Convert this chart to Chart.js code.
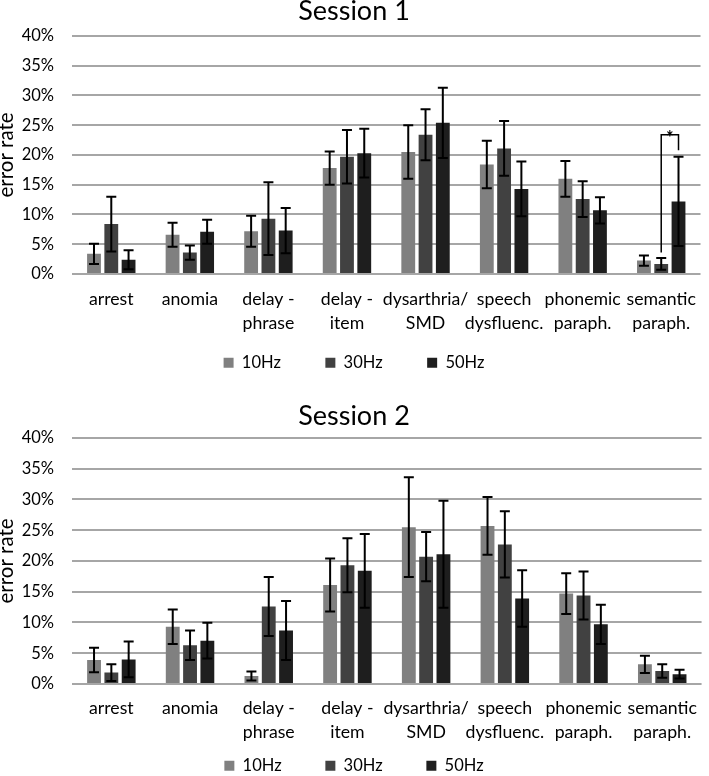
<!DOCTYPE html>
<html>
<head>
<meta charset="utf-8">
<script src="https://cdn.jsdelivr.net/npm/chart.js@4.4.1/dist/chart.umd.min.js"></script>
<style>
  html, body { margin: 0; padding: 0; background: #fff; overflow: hidden; width: 709px; height: 776px; }
  .box { position: absolute; left: 0; width: 709px; }
  #box1 { top: 0; height: 381px; }
  #box2 { top: 388px; height: 396px; }
</style>
</head>
<body>
<div class="box" id="box1"><canvas id="chart1" width="709" height="381"></canvas></div>
<div class="box" id="box2"><canvas id="chart2" width="709" height="396"></canvas></div>
<script>
// categories on the x axis
const categories = ['arrest', 'anomia', ['delay -', 'phrase'], ['delay -', 'item'], ['dysarthria/', 'SMD'],
  ['speech', 'dysfluenc.'], ['phonemic', 'paraph.'], ['semantic', 'paraph.']];
const seriesNames = ['10Hz', '30Hz', '50Hz'];
const yTicks = [0, 5, 10, 15, 20, 25, 30, 35, 40];

// Session 1 (error rate in %, with error bar half-widths)
const s1_10Hz = [3.4, 6.6, 7.2, 17.8, 20.5, 18.4, 16.0, 2.25];
const s1_10Hz_err = [1.7, 2.0, 2.6, 2.8, 4.5, 4.0, 3.0, 0.85];
const s1_30Hz = [8.4, 3.6, 9.3, 19.7, 23.4, 21.1, 12.6, 1.7];
const s1_30Hz_err = [4.6, 1.2, 6.1, 4.5, 4.3, 4.6, 3.0, 1.0];
const s1_50Hz = [2.4, 7.1, 7.3, 20.3, 25.4, 14.3, 10.7, 12.2];
const s1_50Hz_err = [1.6, 2.0, 3.8, 4.1, 5.9, 4.6, 2.2, 7.5];

// Session 2
const s2_10Hz = [3.9, 9.3, 1.3, 16.1, 25.5, 25.7, 14.7, 3.2];
const s2_10Hz_err = [2.0, 2.8, 0.75, 4.3, 8.1, 4.7, 3.3, 1.4];
const s2_30Hz = [1.85, 6.3, 12.6, 19.3, 20.7, 22.7, 14.4, 2.1];
const s2_30Hz_err = [1.35, 2.4, 4.8, 4.4, 4.0, 5.4, 3.9, 1.1];
const s2_50Hz = [4.0, 7.05, 8.7, 18.4, 21.1, 13.9, 9.7, 1.6];
const s2_50Hz_err = [2.9, 2.9, 4.8, 6.0, 8.7, 4.6, 3.2, 0.7];

// significance bracket in session 1 (semantic paraph., 30Hz vs 50Hz)
const sigBracket = { index: 7, from: 1, to: 2, fromValue: 3.6, topValue: 23.4, toValue: 20.8, label: '*' };

const barColors = ['#808080', '#414141', '#1e1e1e'];
const FONT = 'Lato, "Open Sans", sans-serif';

// error bars drawn on top of the bars
const errorBarPlugin = {
  id: 'errorBars',
  afterDatasetsDraw(chart) {
    const ctx = chart.ctx;
    const y = chart.scales.y;
    ctx.save();
    ctx.strokeStyle = '#000';
    ctx.lineWidth = 2;
    chart.data.datasets.forEach((ds, di) => {
      const meta = chart.getDatasetMeta(di);
      meta.data.forEach((bar, i) => {
        const v = ds.data[i];
        const e = ds.errors[i];
        const top = y.getPixelForValue(v + e);
        const bot = y.getPixelForValue(v - e);
        const cap = 5;
        ctx.beginPath();
        ctx.moveTo(bar.x, top); ctx.lineTo(bar.x, bot);
        ctx.moveTo(bar.x - cap, top); ctx.lineTo(bar.x + cap, top);
        ctx.moveTo(bar.x - cap, bot); ctx.lineTo(bar.x + cap, bot);
        ctx.stroke();
      });
    });
    ctx.restore();
  }
};

// bracket with star
const bracketPlugin = {
  id: 'bracket',
  afterDatasetsDraw(chart, args, opts) {
    if (!opts || opts.index === undefined) return;
    const ctx = chart.ctx;
    const y = chart.scales.y;
    const x1 = chart.getDatasetMeta(opts.from).data[opts.index].x;
    const x2 = chart.getDatasetMeta(opts.to).data[opts.index].x;
    const yTop = y.getPixelForValue(opts.topValue);
    ctx.save();
    ctx.strokeStyle = '#000';
    ctx.lineWidth = 1.5;
    ctx.beginPath();
    ctx.moveTo(x1, y.getPixelForValue(opts.fromValue));
    ctx.lineTo(x1, yTop);
    ctx.lineTo(x2, yTop);
    ctx.lineTo(x2, y.getPixelForValue(opts.toValue));
    ctx.stroke();
    ctx.fillStyle = '#000';
    ctx.font = 'bold 18px ' + FONT;
    ctx.textAlign = 'center';
    ctx.textBaseline = 'alphabetic';
    ctx.fillText(opts.label, (x1 + x2) / 2, yTop + 9);
    ctx.restore();
  }
};

function makeDatasets(values, errors) {
  return seriesNames.map((name, k) => ({
    label: name,
    data: values[k],
    errors: errors[k],
    backgroundColor: barColors[k],
    borderWidth: 0,
    categoryPercentage: 0.66,
    barPercentage: 0.8
  }));
}

function makeChart(canvasId, title, values, errors, cfg) {
  const ctx = document.getElementById(canvasId).getContext('2d');
  return new Chart(ctx, {
    type: 'bar',
    data: { labels: categories, datasets: makeDatasets(values, errors) },
    plugins: [errorBarPlugin, bracketPlugin],
    options: {
      responsive: false,
      animation: false,
      devicePixelRatio: 1,
      layout: { padding: { left: 0, right: 1, top: 0, bottom: 0 } },
      plugins: {
        title: {
          display: true,
          text: title,
          color: '#000',
          font: { family: FONT, size: 27, weight: 'normal', lineHeight: 0.8 },
          padding: cfg.titlePadding
        },
        legend: {
          position: 'bottom',
          labels: {
            boxWidth: 10,
            boxHeight: 10,
            padding: cfg.legendPadding,
            color: '#000',
            font: { family: FONT, size: 16.5 },
            generateLabels(chart) {
              const items = Chart.defaults.plugins.legend.labels.generateLabels(chart);
              items.forEach((it, i) => {
                if (i < items.length - 1) it.text += '\u00a0'.repeat(cfg.legendSpaces);
              });
              return items;
            }
          }
        },
        tooltip: { enabled: false },
        bracket: cfg.bracket || {}
      },
      scales: {
        x: {
          grid: { display: false, drawTicks: false },
          border: { display: false },
          ticks: {
            color: '#000',
            padding: cfg.xPadding,
            maxRotation: 0,
            autoSkip: false,
            font: { family: FONT, size: 17.7, lineHeight: 1.356 }
          }
        },
        y: {
          min: 0,
          max: 40,
          afterBuildTicks(scale) { scale.ticks = yTicks.map(v => ({ value: v })); },
          afterFit(scale) { scale.width = 72; },
          grid: { color: '#a6a6a6', lineWidth: 2, drawTicks: false },
          border: { display: false },
          title: {
            display: true,
            text: 'error rate',
            color: '#000',
            padding: 0,
            font: { family: FONT, size: 20.5, lineHeight: 0.65 }
          },
          ticks: {
            color: '#000',
            padding: 18,
            font: { family: FONT, size: 16.5 },
            callback: v => v + '%'
          }
        }
      }
    }
  });
}

makeChart('chart1', 'Session 1',
  [s1_10Hz, s1_30Hz, s1_50Hz], [s1_10Hz_err, s1_30Hz_err, s1_50Hz_err],
  { titlePadding: { top: 0, bottom: 14.4 }, legendPadding: 6.5, legendSpaces: 9, xPadding: 13, bracket: sigBracket });

makeChart('chart2', 'Session 2',
  [s2_10Hz, s2_30Hz, s2_50Hz], [s2_10Hz_err, s2_30Hz_err, s2_50Hz_err],
  { titlePadding: { top: 17.3, bottom: 11.1 }, legendPadding: 1.5, legendSpaces: 10, xPadding: 12 });
</script>
</body>
</html>
